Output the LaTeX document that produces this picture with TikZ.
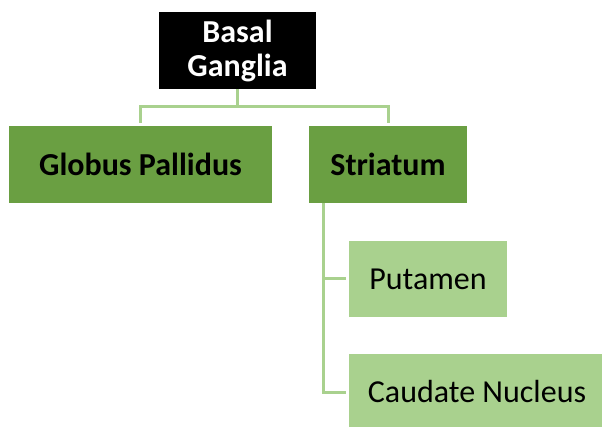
\documentclass[tikz,border=0pt]{standalone}
\usepackage{fontspec}
\setmainfont{Carlito}
\usepackage{tikz}
\definecolor{darkgreen}{HTML}{6A9F42}
\definecolor{lightgreen}{HTML}{A9D18E}
\tikzset{%
  chart/.style = {x=1pt, y=-1pt,
    every node/.style = {shape=rectangle, align=center, inner sep=0pt,
      font=\fontsize{32}{34}\selectfont}
  },
  topbox/.style = {fill=black, text=white, font=\bfseries\fontsize{32}{34}\selectfont,
    minimum width=157pt, minimum height=77pt},
  mainbox/.style = {fill=darkgreen, text=black, font=\bfseries\fontsize{32}{34}\selectfont,
    minimum height=77pt},
  subbox/.style = {fill=lightgreen, text=black, minimum height=76pt},
  link/.style = {draw=lightgreen, line width=3pt, shorten >=3pt}
}
\begin{document}
\begin{tikzpicture}[chart]
  \useasboundingbox (0,0) rectangle (602,427);
  \node[topbox] (basal) at (237.5,50.5) {Basal\\Ganglia};
  \node[mainbox, minimum width=263pt] (globus) at (140.5,164.5) {Globus Pallidus};
  \node[mainbox, minimum width=158pt] (striatum) at (388,164.5) {Striatum};
  \node[subbox, minimum width=158pt] (putamen) at (428,279) {Putamen};
  \node[subbox, minimum width=256pt] (caudate) at (477,392) {Caudate Nucleus};
  % connectors
  \draw[link] (basal.south) -- ++(0,17) -| (globus.north);
  \draw[link] (basal.south) -- ++(0,17) -| (striatum.north);
  \draw[link] ([xshift=-65pt]striatum.south) |- (putamen.west);
  \draw[link] ([xshift=-65pt]striatum.south) |- (caudate.west);
\end{tikzpicture}
\end{document}
